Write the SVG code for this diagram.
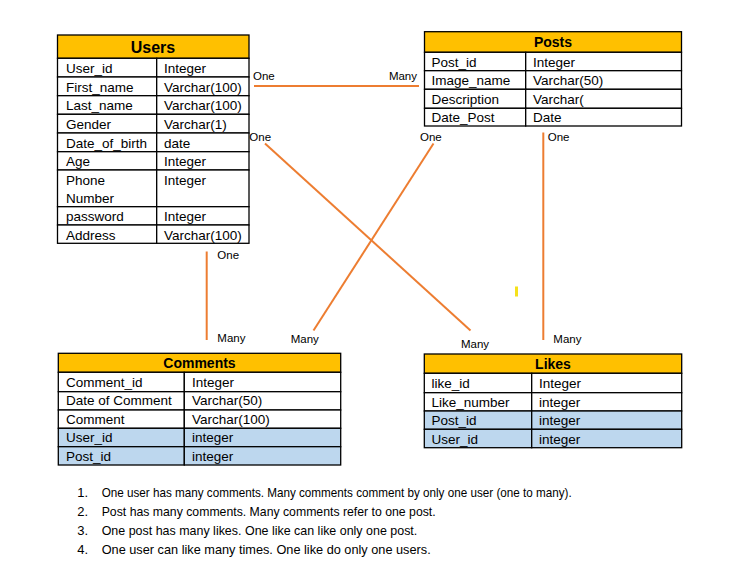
<svg xmlns="http://www.w3.org/2000/svg" width="746" height="580" viewBox="0 0 746 580">
<style>
.bg{fill:#ffffff}
.hdr{fill:#FFC000;stroke:#000;stroke-width:1.3}
.cell{fill:#ffffff;stroke:#000;stroke-width:1.3}
.fk{fill:#BDD7EE;stroke:#000;stroke-width:1.3}
.t{font-family:"Liberation Sans",Arial,sans-serif;font-size:13.5px;fill:#000}
.h{font-family:"Liberation Sans",Arial,sans-serif;font-weight:bold;font-size:14px;fill:#000;text-anchor:middle}
.lbl{font-family:"Liberation Sans",Arial,sans-serif;font-size:11.5px;fill:#000}
.con{stroke:#ED7D31;stroke-width:2;fill:none}
.note{font-family:"Liberation Sans",Arial,sans-serif;font-size:13px;fill:#000}
</style>
<rect class="bg" x="0" y="0" width="746" height="580"/>

<g id="users">
<rect class="hdr" x="57.5" y="35" width="191.5" height="23.3"/>
<text class="h" x="153" y="53" style="font-size:16px">Users</text>
<rect class="cell" x="57.5" y="58.3" width="99.2" height="18.7"/><rect class="cell" x="156.7" y="58.3" width="92.3" height="18.7"/>
<rect class="cell" x="57.5" y="77" width="99.2" height="18.7"/><rect class="cell" x="156.7" y="77" width="92.3" height="18.7"/>
<rect class="cell" x="57.5" y="95.7" width="99.2" height="18.6"/><rect class="cell" x="156.7" y="95.7" width="92.3" height="18.6"/>
<rect class="cell" x="57.5" y="114.3" width="99.2" height="18.7"/><rect class="cell" x="156.7" y="114.3" width="92.3" height="18.7"/>
<rect class="cell" x="57.5" y="133" width="99.2" height="18.7"/><rect class="cell" x="156.7" y="133" width="92.3" height="18.7"/>
<rect class="cell" x="57.5" y="151.7" width="99.2" height="18.3"/><rect class="cell" x="156.7" y="151.7" width="92.3" height="18.3"/>
<rect class="cell" x="57.5" y="170" width="99.2" height="36.7"/><rect class="cell" x="156.7" y="170" width="92.3" height="36.7"/>
<rect class="cell" x="57.5" y="206.7" width="99.2" height="18.3"/><rect class="cell" x="156.7" y="206.7" width="92.3" height="18.3"/>
<rect class="cell" x="57.5" y="225" width="99.2" height="18.3"/><rect class="cell" x="156.7" y="225" width="92.3" height="18.3"/>
<text class="t" x="66" y="73">User_id</text><text class="t" x="164" y="73">Integer</text>
<text class="t" x="66" y="91.5">First_name</text><text class="t" x="164" y="91.5">Varchar(100)</text>
<text class="t" x="66" y="110">Last_name</text><text class="t" x="164" y="110">Varchar(100)</text>
<text class="t" x="66" y="128.5">Gender</text><text class="t" x="164" y="128.5">Varchar(1)</text>
<text class="t" x="66" y="147.5">Date_of_birth</text><text class="t" x="164" y="147.5">date</text>
<text class="t" x="66" y="166">Age</text><text class="t" x="164" y="166">Integer</text>
<text class="t" x="66" y="185">Phone</text><text class="t" x="164" y="185">Integer</text>
<text class="t" x="66" y="203">Number</text>
<text class="t" x="66" y="221">password</text><text class="t" x="164" y="221">Integer</text>
<text class="t" x="66" y="239.5">Address</text><text class="t" x="164" y="239.5">Varchar(100)</text>
</g>

<g id="posts">
<rect class="hdr" x="424.5" y="31.7" width="257" height="20.6"/>
<text class="h" x="553" y="47">Posts</text>
<rect class="cell" x="424.5" y="52.3" width="101.2" height="18.4"/><rect class="cell" x="525.7" y="52.3" width="155.8" height="18.4"/>
<rect class="cell" x="424.5" y="70.7" width="101.2" height="18.6"/><rect class="cell" x="525.7" y="70.7" width="155.8" height="18.6"/>
<rect class="cell" x="424.5" y="89.3" width="101.2" height="19"/><rect class="cell" x="525.7" y="89.3" width="155.8" height="19"/>
<rect class="cell" x="424.5" y="108.3" width="101.2" height="17.7"/><rect class="cell" x="525.7" y="108.3" width="155.8" height="17.7"/>
<text class="t" x="431.5" y="66.5">Post_id</text><text class="t" x="533" y="66.5">Integer</text>
<text class="t" x="431.5" y="85">Image_name</text><text class="t" x="533" y="85">Varchar(50)</text>
<text class="t" x="431.5" y="104">Description</text><text class="t" x="533" y="104">Varchar(</text>
<text class="t" x="431.5" y="122">Date_Post</text><text class="t" x="533" y="122">Date</text>
</g>

<g id="comments">
<rect class="hdr" x="58.3" y="353.3" width="282.4" height="19"/>
<text class="h" x="199.5" y="368">Comments</text>
<rect class="cell" x="58.3" y="372.3" width="126" height="19.4"/><rect class="cell" x="184.3" y="372.3" width="156.4" height="19.4"/>
<rect class="cell" x="58.3" y="391.7" width="126" height="18.3"/><rect class="cell" x="184.3" y="391.7" width="156.4" height="18.3"/>
<rect class="cell" x="58.3" y="410" width="126" height="18.3"/><rect class="cell" x="184.3" y="410" width="156.4" height="18.3"/>
<rect class="fk" x="58.3" y="428.3" width="126" height="18.4"/><rect class="fk" x="184.3" y="428.3" width="156.4" height="18.4"/>
<rect class="fk" x="58.3" y="446.7" width="126" height="18.3"/><rect class="fk" x="184.3" y="446.7" width="156.4" height="18.3"/>
<text class="t" x="66" y="386.5">Comment_id</text><text class="t" x="192" y="386.5">Integer</text>
<text class="t" x="66" y="405">Date of Comment</text><text class="t" x="192" y="405">Varchar(50)</text>
<text class="t" x="66" y="423.5">Comment</text><text class="t" x="192" y="423.5">Varchar(100)</text>
<text class="t" x="66" y="442">User_id</text><text class="t" x="192" y="442">integer</text>
<text class="t" x="66" y="460.5">Post_id</text><text class="t" x="192" y="460.5">integer</text>
</g>

<g id="likes">
<rect class="hdr" x="424.3" y="354" width="257.4" height="19.3"/>
<text class="h" x="553" y="369">Likes</text>
<rect class="cell" x="424.3" y="373.3" width="107.4" height="19.4"/><rect class="cell" x="531.7" y="373.3" width="150" height="19.4"/>
<rect class="cell" x="424.3" y="392.7" width="107.4" height="18.3"/><rect class="cell" x="531.7" y="392.7" width="150" height="18.3"/>
<rect class="fk" x="424.3" y="411" width="107.4" height="18.3"/><rect class="fk" x="531.7" y="411" width="150" height="18.3"/>
<rect class="fk" x="424.3" y="429.3" width="107.4" height="18.4"/><rect class="fk" x="531.7" y="429.3" width="150" height="18.4"/>
<text class="t" x="431.5" y="387.5">like_id</text><text class="t" x="539" y="387.5">Integer</text>
<text class="t" x="431.5" y="406.5">Like_number</text><text class="t" x="539" y="406.5">integer</text>
<text class="t" x="431.5" y="425">Post_id</text><text class="t" x="539" y="425">integer</text>
<text class="t" x="431.5" y="443.5">User_id</text><text class="t" x="539" y="443.5">integer</text>
</g>

<g id="connectors">
<line class="con" x1="254" y1="86" x2="419" y2="86"/>
<line class="con" x1="265" y1="143.5" x2="470.5" y2="330.5"/>
<line class="con" x1="433.5" y1="143.5" x2="313.5" y2="330.5"/>
<line class="con" x1="543.3" y1="132.5" x2="543.3" y2="340"/>
<line class="con" x1="206.7" y1="251.5" x2="206.7" y2="340"/>
<text class="lbl" x="253" y="79.5">One</text>
<text class="lbl" x="417" y="79.5" text-anchor="end">Many</text>
<text class="lbl" x="249.3" y="140.5">One</text>
<text class="lbl" x="420" y="140.5">One</text>
<text class="lbl" x="547.7" y="140.5">One</text>
<text class="lbl" x="217.3" y="258.5">One</text>
<text class="lbl" x="217.3" y="342">Many</text>
<text class="lbl" x="290.7" y="343">Many</text>
<text class="lbl" x="461" y="347.5">Many</text>
<text class="lbl" x="553.3" y="342.5">Many</text>
</g>

<rect x="515" y="286.5" width="3" height="10" fill="#F5E11B"/>

<g id="notes">
<text class="note" x="77.3" y="497">1.</text><text class="note" x="101.7" y="497" textLength="470" lengthAdjust="spacingAndGlyphs">One user has many comments. Many comments comment by only one user (one to many).</text>
<text class="note" x="77.3" y="515.5">2.</text><text class="note" x="101.7" y="515.5" textLength="334" lengthAdjust="spacingAndGlyphs">Post has many comments. Many comments refer to one post.</text>
<text class="note" x="77.3" y="534.5">3.</text><text class="note" x="101.7" y="534.5" textLength="315.6" lengthAdjust="spacingAndGlyphs">One post has many likes. One like can like only one post.</text>
<text class="note" x="77.3" y="553.5">4.</text><text class="note" x="101.7" y="553.5" textLength="329" lengthAdjust="spacingAndGlyphs">One user can like many times. One like do only one users.</text>
</g>
</svg>
